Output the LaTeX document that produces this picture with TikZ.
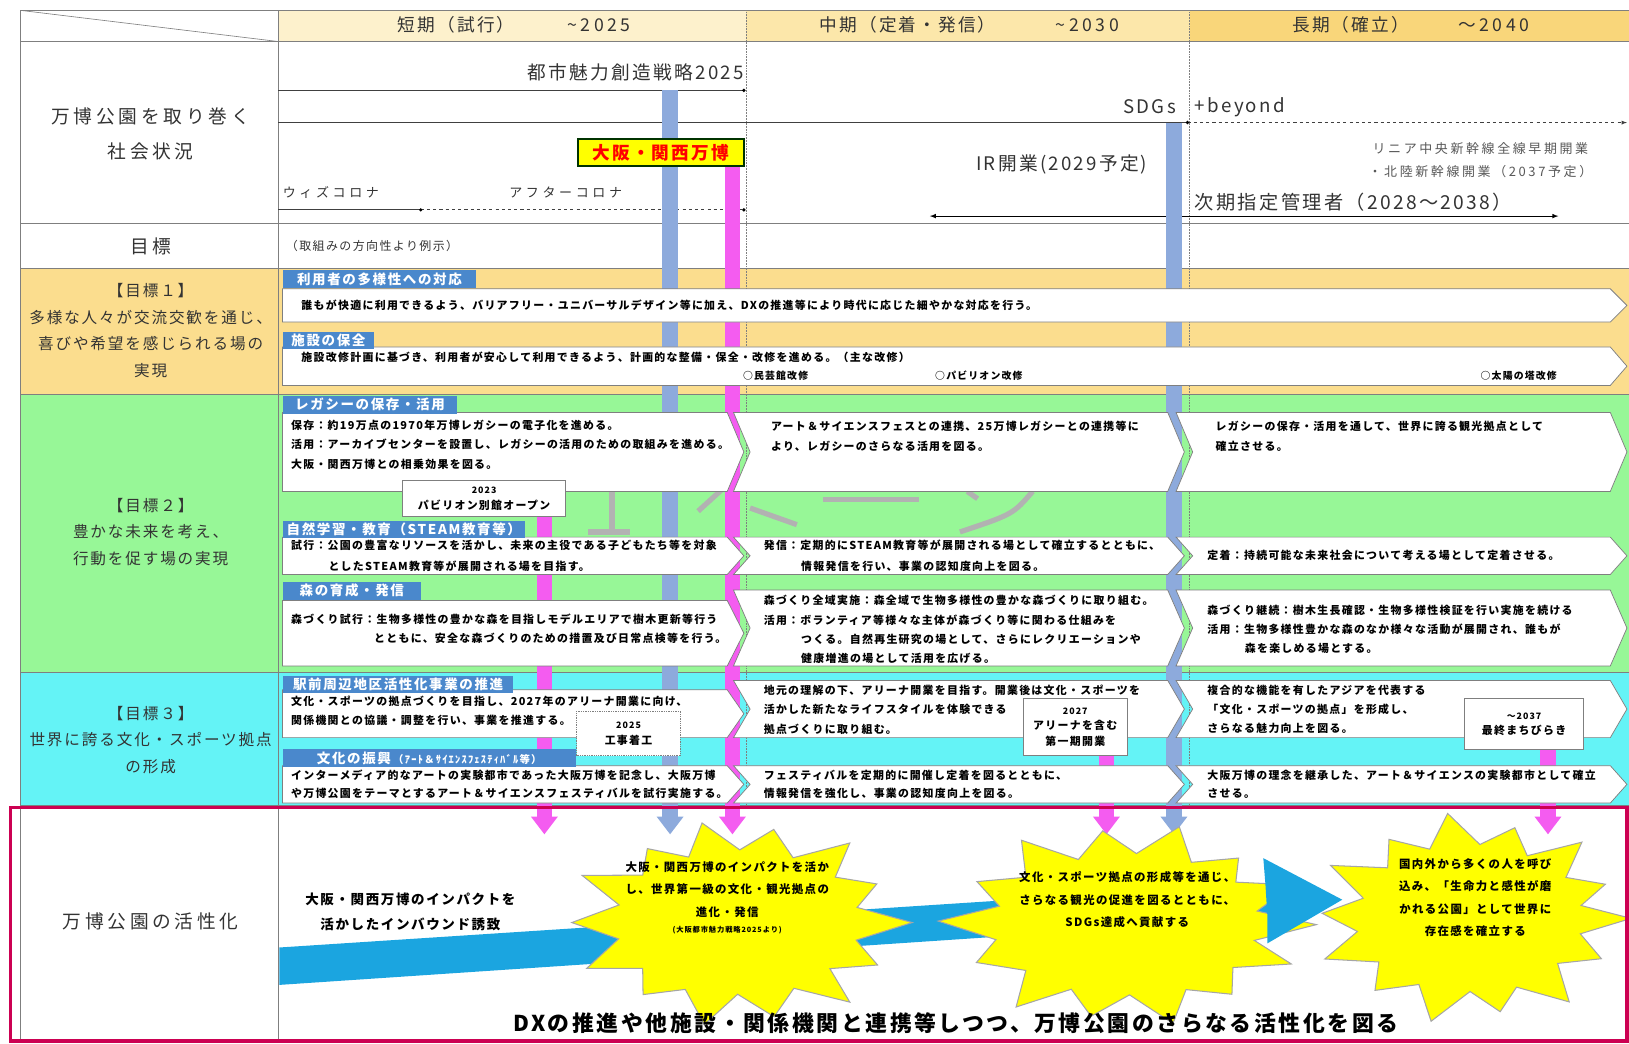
\documentclass[tikz,border=0pt]{standalone}
\usepackage{fontspec}
\setmainfont{Noto Sans CJK JP}
\newfontfamily\jpls{Noto Sans CJK JP}[LetterSpace=12]
\newfontfamily\jplab{Noto Sans CJK JP}[LetterSpace=20]
\newfontfamily\jpwide{Noto Sans CJK JP}[LetterSpace=28]
\definecolor{hdrA}{HTML}{FDF1CC}
\definecolor{hdrB}{HTML}{FCE7AA}
\definecolor{hdrC}{HTML}{F9D67A}
\definecolor{gA}{HTML}{FBDD8E}
\definecolor{gB}{HTML}{97F797}
\definecolor{gC}{HTML}{64F3F6}
\definecolor{tagblue}{HTML}{4A88CC}
\definecolor{barblue}{HTML}{8DAADC}
\definecolor{barmag}{HTML}{F45CF0}
\definecolor{band}{HTML}{1BA5E0}
\definecolor{redframe}{HTML}{CC0052}
\definecolor{gridc}{HTML}{7F7F7F}
\definecolor{ink}{HTML}{333333}
\definecolor{sbyellow}{HTML}{FFFF00}
\tikzset{
  gl/.style={draw=gridc, line width=0.8pt},
  cbox/.style={draw=gridc, fill=white, line width=0.7pt},
  tagbox/.style={fill=tagblue, text=white, anchor=north west, inner xsep=3pt, inner ysep=0pt,
     minimum height=17pt, align=left, font=\jpls\bfseries\fontsize{13}{15}\selectfont},
  btxt/.style={anchor=west, inner sep=0pt, align=left, text=black,
     font=\jpls\bfseries\fontsize{10.5}{18.5}\selectfont},
  hdr/.style={inner sep=0pt, text=ink, font=\jpls\fontsize{17}{20}\selectfont},
  lab/.style={inner sep=0pt, align=center, text=ink, font=\jplab\fontsize{18}{34}\selectfont},
  glab/.style={inner sep=0pt, align=center, text=ink, font=\jpls\fontsize{15}{25.5}\selectfont},
  soc/.style={inner sep=0pt, text=ink, font=\jpls\fontsize{18}{20}\selectfont},
  call/.style={draw=gridc, fill=white, line width=0.7pt, align=center, inner sep=2pt,
     font=\jpls\bfseries\fontsize{10.5}{15}\selectfont},
  sbst/.style={fill=sbyellow, draw=gray!70, line width=1pt, line join=miter},
  sbtxt/.style={inner sep=0pt, align=center, font=\jpls\bfseries\fontsize{11}{21.5}\selectfont},
  wm/.style={draw=gray!60, line width=5pt},
}
\newcommand{\chevL}[4]{\draw[cbox] (#1,#2) -- (#3,#2) -- ({#3+16},{(#2+#4)/2}) -- (#3,#4) -- (#1,#4) -- cycle;}
\newcommand{\chevM}[4]{\draw[cbox] (#1,#2) -- (#3,#2) -- ({#3+16},{(#2+#4)/2}) -- (#3,#4) -- (#1,#4) -- ({#1+16},{(#2+#4)/2}) -- cycle;}
\newcommand{\dropbar}[4]{%
  \coordinate (#4t) at (#2,#3);
  \coordinate (#4b) at (#2,786);
  \draw[#1, line width=15pt] (#4t) -- (#4b);
  \fill[#1] ([xshift=-13pt]#4b) -- ([xshift=13pt]#4b) -- ([yshift=-17pt]#4b) -- cycle;}
\newcommand{\drawburst}[5]{\begin{scope}[shift={(#1,#2)}]
  \draw[sbst] (0:#3 and #4) \foreach \a/\f in {#5} { -- (\a:{#3*\f} and {#4*\f}) } -- cycle;
  \end{scope}}
\begin{document}
\begin{tikzpicture}[x=1pt,y=-1pt]
\useasboundingbox (0,0) rectangle (1568,1004);
\fill[white] (0,0) rectangle (1568,1004);
% header fills
\fill[hdrA] (268,10) rectangle (718,40);
\fill[hdrB] (718,10) rectangle (1145,40);
\fill[hdrC] (1145,10) rectangle (1568,40);
% section fills
\fill[gA] (20,258) rectangle (1568,380);
\fill[gB] (20,380) rectangle (1568,647);
\fill[gC] (20,647) rectangle (1568,775);
% grid
\draw[gl] (20,10) -- (1568,10);
\draw[gl] (20,40) -- (1568,40);
\draw[gl] (20,215) -- (1568,215);
\draw[gl] (20,258) -- (1568,258);
\draw[gl] (20,380) -- (1568,380);
\draw[gl] (20,647) -- (1568,647);
\draw[gl] (20,775) -- (1568,775);
\draw[gl] (20,1000) -- (1568,1000);
\draw[gl] (20,10) -- (20,1000);
\draw[gl] (268,10) -- (268,1000);
\draw[gridc, line width=0.6pt] (20,10) -- (268,40);
\draw[gridc, densely dotted, line width=0.5pt] (718,10) -- (718,775);
\draw[gridc, densely dotted, line width=0.5pt] (1145,10) -- (1145,775);
% watermark strokes
\draw[wm] (589,474) -- (589,512);
\draw[wm] (566,512) -- (606,512);
\draw[wm] (672,492) -- (694,472);
\draw[wm] (722,489) -- (767,505);
\draw[wm] (792,481) -- (885,481);
\draw[wm] (931,473) -- (941,480);
\draw[wm] (994,473) .. controls (975,495) .. (924,512);
% header texts
\node[hdr] (h1) at (495,24) {短期（試行）\hspace{3em}{\jplab\textasciitilde2025}};
\node[hdr] (h2) at (933,24) {中期（定着・発信）\hspace{3.4em}{\jplab\textasciitilde2030}};
\node[hdr] (h3) at (1358,24) {長期（確立）\hspace{2.8em}{\jplab～2040}};
% social situation lines
\coordinate (s1a) at (268,87); \coordinate (s1b) at (716,87);
\draw[black!75, line width=0.8pt] (s1a) -- (s1b);
\fill[black] (s1b) circle (1.8);
\coordinate (s2a) at (268,118); \coordinate (s2m) at (1143,118); \coordinate (s2b) at (1566,118);
\draw[black!75, line width=0.8pt] (s2a) -- (s2m);
\draw[black!75, line width=0.8pt, dashed, -{latex}] (s2m) -- (s2b);
\fill[black] (s2m) circle (1.8);
\coordinate (s3a) at (268,202); \coordinate (s3m) at (405,202); \coordinate (s3b) at (716,202);
\draw[black!75, line width=0.8pt] (s3a) -- (s3m);
\draw[black!75, line width=0.8pt, dashed] (s3m) -- (s3b);
\fill[black] (s3m) circle (1.6); \fill[black] (s3b) circle (1.8);
\coordinate (s4a) at (895,208); \coordinate (s4b) at (1500,208);
\draw[black, line width=1pt, {latex}-{latex}] (s4a) -- (s4b);
% bars
\dropbar{barblue}{645}{87}{bA}
\dropbar{barmag}{705}{160}{bB}
\dropbar{barblue}{1130}{118}{bC}
\dropbar{barmag}{524}{497}{bD}
\dropbar{barmag}{1065}{728}{bE}
\dropbar{barmag}{1490}{722}{bF}
% social texts
\node[soc, anchor=east] (ts1) at (716,70) {都市魅力創造戦略2025};
\node[soc, anchor=east] (ts2) at (1132,103) {SDGs};
\node[soc, anchor=west] (ts3) at (1150,103) {+beyond};
\node[draw=black!80!green, line width=2pt, fill=sbyellow, text=red, inner sep=0pt,
  minimum width=160pt, minimum height=26pt, font=\jpls\bfseries\fontsize{17}{20}\selectfont] (expo) at (636,147) {大阪・関西万博};
\node[soc] (ts4) at (1022,158) {IR開業(2029予定)};
\node[inner sep=0pt, text=black!65, align=center, font=\jplab\fontsize{12.5}{22}\selectfont] (ts5) at (1425,154) {リニア中央新幹線全線早期開業\\・北陸新幹線開業（2037予定）};
\node[inner sep=0pt, anchor=west, text=ink, font=\jpwide\fontsize{12.5}{15}\selectfont] (ts6) at (272,185) {ウィズコロナ};
\node[inner sep=0pt, anchor=west, text=ink, font=\jpwide\fontsize{12.5}{15}\selectfont] (ts7) at (490,185) {アフターコロナ};
\node[soc, anchor=west, font=\jpls\fontsize{18.5}{20}\selectfont] (ts8) at (1150,195) {次期指定管理者（2028～2038）};
% left labels
\node[lab] (L1) at (145,129) {万博公園を取り巻く\\社会状況};
\node[lab] (L2) at (145,237) {目標};
\node[glab] (L3) at (145,318) {【目標１】\\多様な人々が交流交歓を通じ、\\喜びや希望を感じられる場の\\実現};
\node[glab] (L4) at (145,512) {【目標２】\\豊かな未来を考え、\\行動を促す場の実現};
\node[glab] (L5) at (145,712) {【目標３】\\世界に誇る文化・スポーツ拠点\\の形成};
\node[lab] (L6) at (145,887) {万博公園の活性化};
\node[inner sep=0pt, anchor=west, text=ink, font=\jpls\fontsize{11.5}{13}\selectfont] (ex) at (275,237) {（取組みの方向性より例示）};
% goal 1
\chevL{272}{278}{1550}{310}
\chevL{272}{334}{1550}{371}
\node[tagbox, minimum width=186pt] (t1) at (272,260) {利用者の多様性への対応};
\node[tagbox, minimum width=88pt] (t2) at (272,319) {施設の保全};
\node[btxt] (g1a) at (290,294) {誰もが快適に利用できるよう、バリアフリー・ユニバーサルデザイン等に加え、DXの推進等により時代に応じた細やかな対応を行う。};
\node[btxt] (g1b) at (290,344) {施設改修計画に基づき、利用者が安心して利用できるよう、計画的な整備・保全・改修を進める。（主な改修）};
\node[btxt, font=\jpls\bfseries\fontsize{9.5}{12}\selectfont] (g1c) at (715,362) {○民芸館改修};
\node[btxt, font=\jpls\bfseries\fontsize{9.5}{12}\selectfont] (g1d) at (900,362) {○パビリオン改修};
\node[btxt, font=\jpls\bfseries\fontsize{9.5}{12}\selectfont] (g1e) at (1425,362) {○太陽の塔改修};
% goal 2 boxes
\chevL{272}{397}{700}{473}
\chevM{706}{397}{1124}{473}
\chevM{1132}{397}{1550}{473}
\chevL{272}{517}{700}{553}
\chevM{706}{517}{1124}{553}
\chevM{1132}{517}{1550}{553}
\chevL{272}{578}{700}{641}
\chevM{706}{568}{1124}{641}
\chevM{1132}{568}{1550}{641}
% goal 3 boxes
\chevL{272}{664}{700}{710}
\chevM{706}{655}{1124}{710}
\chevM{1132}{655}{1550}{710}
\chevL{272}{737}{700}{773}
\chevM{706}{737}{1124}{773}
\chevM{1132}{737}{1550}{773}
% tags
\node[tagbox, minimum width=168pt] (t3) at (272,381) {レガシーの保存・活用};
\node[tagbox, minimum width=233pt] (t4) at (272,501) {自然学習・教育（STEAM教育等）};
\node[tagbox, minimum width=133pt] (t5) at (272,560) {森の育成・発信};
\node[tagbox, minimum width=222pt] (t6) at (272,650) {駅前周辺地区活性化事業の推進};
\node[tagbox, minimum width=282pt] (t7) at (272,721) {文化の振興\,{\fontsize{10}{12}\selectfont（ｱｰﾄ＆ｻｲｴﾝｽﾌｪｽﾃｨﾊﾞﾙ等）}};
% goal 2 texts
\node[btxt] (l1) at (280,428) {保存：約19万点の1970年万博レガシーの電子化を進める。\\活用：アーカイブセンターを設置し、レガシーの活用のための取組みを進める。\\大阪・関西万博との相乗効果を図る。};
\node[btxt] (l2) at (742,420) {アート＆サイエンスフェスとの連携、25万博レガシーとの連携等に\\より、レガシーのさらなる活用を図る。};
\node[btxt] (l3) at (1170,420) {レガシーの保存・活用を通して、世界に誇る観光拠点として\\確立させる。};
\node[btxt, font=\jpls\bfseries\fontsize{10.5}{20}\selectfont] (s1) at (280,535) {試行：公園の豊富なリソースを活かし、未来の主役である子どもたち等を対象\\\hspace*{36pt}としたSTEAM教育等が展開される場を目指す。};
\node[btxt, font=\jpls\bfseries\fontsize{10.5}{20}\selectfont] (s2) at (735,535) {発信：定期的にSTEAM教育等が展開される場として確立するとともに、\\\hspace*{36pt}情報発信を行い、事業の認知度向上を図る。};
\node[btxt] (s3) at (1162,535) {定着：持続可能な未来社会について考える場として定着させる。};
\node[btxt] (f1) at (280,605) {森づくり試行：生物多様性の豊かな森を目指しモデルエリアで樹木更新等行う\\\hspace*{80pt}とともに、安全な森づくりのための措置及び日常点検等を行う。};
\node[btxt] (f2) at (735,606) {森づくり全域実施：森全域で生物多様性の豊かな森づくりに取り組む。\\活用：ボランティア等様々な主体が森づくり等に関わる仕組みを\\\hspace*{36pt}つくる。自然再生研究の場として、さらにレクリエーションや\\\hspace*{36pt}健康増進の場として活用を広げる。};
\node[btxt] (f3) at (1162,606) {森づくり継続：樹木生長確認・生物多様性検証を行い実施を続ける\\活用：生物多様性豊かな森のなか様々な活動が展開され、誰もが\\\hspace*{36pt}森を楽しめる場とする。};
% goal 3 texts
\node[btxt, font=\jpls\bfseries\fontsize{10.5}{18}\selectfont] (e1) at (280,684) {文化・スポーツの拠点づくりを目指し、2027年のアリーナ開業に向け、\\関係機関との協議・調整を行い、事業を推進する。};
\node[btxt] (e2) at (735,683) {地元の理解の下、アリーナ開業を目指す。開業後は文化・スポーツを\\活かした新たなライフスタイルを体験できる\\拠点づくりに取り組む。};
\node[btxt] (e3) at (1162,683) {複合的な機能を有したアジアを代表する\\「文化・スポーツの拠点」を形成し、\\さらなる魅力向上を図る。};
\node[btxt, font=\jpls\bfseries\fontsize{10.5}{18}\selectfont] (c1) at (280,755) {インターメディア的なアートの実験都市であった大阪万博を記念し、大阪万博\\や万博公園をテーマとするアート＆サイエンスフェスティバルを試行実施する。};
\node[btxt, font=\jpls\bfseries\fontsize{10.5}{18}\selectfont] (c2) at (735,755) {フェスティバルを定期的に開催し定着を図るとともに、\\情報発信を強化し、事業の認知度向上を図る。};
\node[btxt, font=\jpls\bfseries\fontsize{10.5}{18}\selectfont] (c3) at (1162,755) {大阪万博の理念を継承した、アート＆サイエンスの実験都市として確立\\させる。};
% callouts
\node[call, minimum width=157pt, minimum height=35pt] (k1) at (466,480) {{\fontsize{8.5}{10}\selectfont 2023}\\パビリオン別館オープン};
\node[call, densely dotted, minimum width=100pt, minimum height=43pt] (k2) at (605,706) {{\fontsize{8.5}{10}\selectfont 2025}\\工事着工};
\node[call, minimum width=100pt, minimum height=55pt] (k3) at (1035,700) {{\fontsize{8.5}{10}\selectfont 2027}\\アリーナを含む\\第一期開業};
\node[call, minimum width=115pt, minimum height=49pt] (k4) at (1467,697) {{\fontsize{8.5}{10}\selectfont ～2037}\\最終まちびらき};
% bottom section
\fill[band] (269,912) -- (1222,850) -- (1222,884) -- (269,948) -- cycle;
\drawburst{710}{888}{168}{100}{14/0.7, 27/0.9, 40/0.69, 50/1.0, 63/0.71, 77/0.93, 90/0.69, 101/1.0, 115/0.71, 128/0.88, 141/0.7, 153/0.97, 167/0.7, 180/0.95, 194/0.7, 207/1.0, 220/0.71, 234/0.88, 246/0.69, 258/0.98, 271/0.7, 283/0.92, 297/0.7, 310/1.0, 322/0.71, 335/0.88, 348/0.7}
\drawburst{1085}{890}{182}{98}{13/0.69, 24/0.95, 37/0.7, 51/0.88, 64/0.71, 76/1.0, 89/0.69, 102/0.92, 115/0.7, 126/1.0, 140/0.7, 155/0.88, 168/0.71, 182/1.0, 195/0.7, 208/0.9, 221/0.71, 236/1.0, 248/0.69, 262/0.93, 274/0.7, 286/1.0, 299/0.7, 312/0.88, 324/0.71, 336/0.96, 349/0.7}
\fill[band] (1218,851) -- (1216,826) -- (1292,866) -- (1220,908) -- (1220,883) -- cycle;
\drawburst{1415}{884}{155}{102}{12/0.7, 25/0.9, 38/0.69, 52/1.0, 66/0.71, 78/0.9, 90/0.69, 104/1.0, 117/0.7, 131/0.9, 144/0.7, 157/0.98, 170/0.71, 183/0.92, 196/0.69, 210/1.0, 223/0.7, 236/0.9, 249/0.7, 262/1.0, 275/0.7, 288/0.9, 301/0.69, 314/1.0, 327/0.71, 339/0.9, 350/0.7}
\node[sbtxt] (sb1t) at (700,864) {大阪・関西万博のインパクトを活か\\し、世界第一級の文化・観光拠点の\\進化・発信\\[-6pt]{\fontsize{7}{9}\selectfont (大阪都市魅力戦略2025より)}};
\node[sbtxt] (sb2t) at (1085,866) {文化・スポーツ拠点の形成等を通じ、\\さらなる観光の促進を図るとともに、\\SDGs達成へ貢献する};
\node[sbtxt] (sb3t) at (1420,864) {国内外から多くの人を呼び\\込み、「生命力と感性が磨\\かれる公園」として世界に\\存在感を確立する};
\node[inner sep=0pt, align=center, font=\jpls\bfseries\fontsize{13}{24}\selectfont] (b1) at (395,878) {大阪・関西万博のインパクトを\\活かしたインバウンド誘致};
\node[inner sep=0pt, font=\jpls\bfseries\fontsize{21}{24}\selectfont] (b2) at (920,985) {DXの推進や他施設・関係機関と連携等しつつ、万博公園のさらなる活性化を図る};
\draw[redframe, line width=3pt] (10,777) rectangle (1566,1002);
\end{tikzpicture}
\end{document}
